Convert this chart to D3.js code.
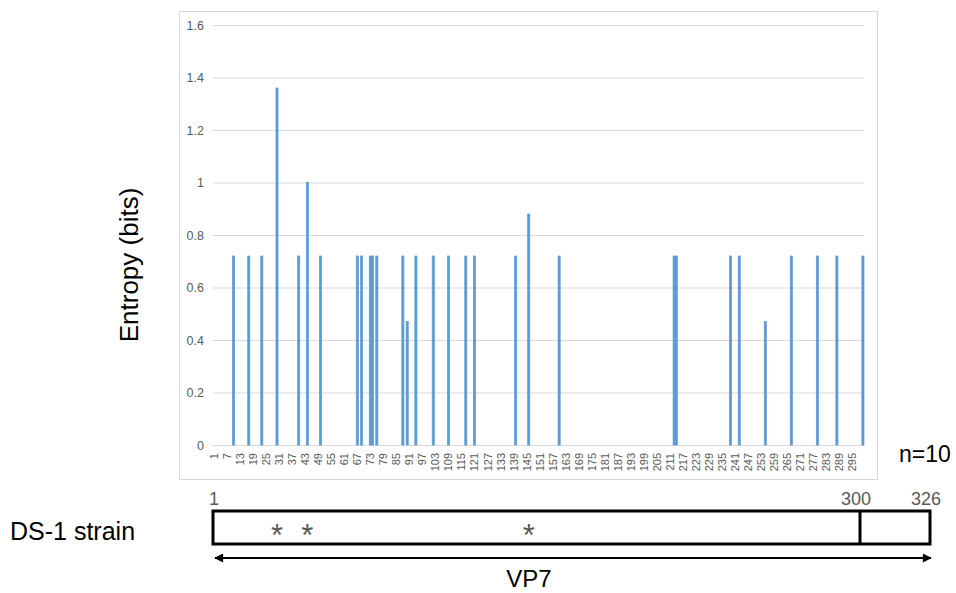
<!DOCTYPE html>
<html>
<head>
<meta charset="utf-8">
<script src="https://d3js.org/d3.v7.min.js"></script>
<style>
  body { margin: 0; background: #fff; }
  text { font-family: "Liberation Sans", Arial, sans-serif; }
</style>
</head>
<body>
<div id="my_dataviz"></div>
<script>
// amino acid sites with non-zero entropy (VP7, n=10)
var sitePositions = [10, 17, 23, 30, 40, 44, 50, 67, 69, 73, 74, 76, 88, 90, 94, 102, 109, 117, 121,
                     140, 146, 160, 213, 214, 239, 243, 255, 267, 279, 288, 300];
var siteEntropy   = [0.72, 0.72, 0.72, 1.36, 0.72, 1.00, 0.72, 0.72, 0.72, 0.72, 0.72, 0.72, 0.72, 0.47, 0.72, 0.72, 0.72, 0.72, 0.72,
                     0.72, 0.88, 0.72, 0.72, 0.72, 0.72, 0.72, 0.47, 0.72, 0.72, 0.72, 0.72];
var yTicks = [0, 0.2, 0.4, 0.6, 0.8, 1, 1.2, 1.4, 1.6];
var nSites = 300;
var proteinLength = 326;
var markedSites = [30, 44, 146];

var W = 956, H = 593;

// plot area
var plotLeft = 213, plotRight = 864, plotTop = 25, plotBottom = 445;

var svg = d3.select("#my_dataviz")
  .append("svg")
    .attr("width", W)
    .attr("height", H);

// chart frame
svg.append("rect")
  .attr("x", 179.5).attr("y", 11.5)
  .attr("width", 698).attr("height", 468)
  .attr("fill", "#fff")
  .attr("stroke", "#d9d9d9");

var sites = d3.range(1, nSites + 1);

var x = d3.scaleBand()
  .domain(sites)
  .range([plotLeft, plotRight])
  .paddingInner(0.02);

var y = d3.scaleLinear()
  .domain([0, 1.6])
  .range([plotBottom, plotTop]);

// gridlines + y labels
var yAxis = svg.append("g")
  .attr("transform", "translate(" + plotLeft + ",0)")
  .call(d3.axisLeft(y).tickValues(yTicks).tickSize(-(plotRight - plotLeft)).tickPadding(9)
    .tickFormat(function(d) { return d3.format("")(+d.toFixed(1)); }));
yAxis.select(".domain").remove();
yAxis.selectAll("line").attr("stroke", "#d9d9d9").attr("stroke-width", 1);
yAxis.selectAll("text")
  .attr("fill", "#595959")
  .style("font-size", "12.5px")
  .style("font-family", "'Liberation Sans', Arial, sans-serif");

// x labels, every 6th site
var xAxis = svg.append("g")
  .attr("transform", "translate(0," + plotBottom + ")")
  .call(d3.axisBottom(x).tickValues(d3.range(1, nSites + 1, 6)).tickSize(0).tickPadding(0));
xAxis.select(".domain").remove();
xAxis.selectAll("text")
  .attr("fill", "#595959")
  .style("font-size", "11px")
  .style("font-family", "'Liberation Sans', Arial, sans-serif")
  .attr("text-anchor", "end")
  .attr("transform", "translate(4,8) rotate(-90)")
  .attr("y", 0).attr("dy", 0);

// bars
var data = sitePositions.map(function(p, i) { return {pos: p, value: siteEntropy[i]}; });
svg.append("g")
  .selectAll("rect")
  .data(data)
  .enter().append("rect")
    .attr("x", function(d) { return x(d.pos); })
    .attr("y", function(d) { return y(d.value); })
    .attr("width", x.bandwidth())
    .attr("height", function(d) { return y(0) - y(d.value); })
    .attr("fill", "#5b9bd5")
    .attr("stroke", "#5b9bd5")
    .attr("stroke-width", 0.7);

// y title
svg.append("text")
  .attr("transform", "translate(138,265) rotate(-90)")
  .attr("text-anchor", "middle")
  .style("font-size", "26px")
  .attr("fill", "#000")
  .text("Entropy (bits)");

svg.append("text")
  .attr("x", 899).attr("y", 462)
  .style("font-size", "23px")
  .text("n=10");

// protein schematic
var bx = d3.scaleLinear()
  .domain([0, nSites, proteinLength])
  .range([213, 860, 930]);

var boxTop = 511, boxBottom = 544;

svg.append("rect")
  .attr("x", bx(0)).attr("y", boxTop)
  .attr("width", bx(proteinLength) - bx(0))
  .attr("height", boxBottom - boxTop)
  .attr("fill", "none")
  .attr("stroke", "#000")
  .attr("stroke-width", 3);

svg.append("line")
  .attr("x1", bx(nSites)).attr("x2", bx(nSites))
  .attr("y1", boxTop).attr("y2", boxBottom)
  .attr("stroke", "#000")
  .attr("stroke-width", 3);

svg.selectAll(".posLabel")
  .data([0, nSites, proteinLength])
  .enter().append("text")
    .attr("class", "posLabel")
    .attr("x", function(d) { return bx(d) + (d == 0 ? 1 : -4); })
    .attr("y", 505)
    .attr("text-anchor", "middle")
    .attr("fill", "#595959")
    .style("font-size", "18px")
    .text(function(d) { return d == 0 ? 1 : d; });

// asterisks at the high entropy sites
svg.selectAll(".star")
  .data(markedSites)
  .enter().append("text")
    .attr("class", "star")
    .attr("x", function(d) { return x(d) + x.bandwidth() / 2; })
    .attr("y", 546)
    .attr("text-anchor", "middle")
    .attr("fill", "#595959")
    .style("font-size", "31px")
    .text("*");

// double arrow
var defs = svg.append("defs");
["start", "end"].forEach(function(k) {
  defs.append("marker")
    .attr("id", "arrow-" + k)
    .attr("viewBox", "0 0 10 10")
    .attr("refX", k == "end" ? 9 : 1).attr("refY", 5)
    .attr("markerWidth", 5).attr("markerHeight", 4.5)
    .attr("orient", "auto")
    .append("path")
      .attr("d", k == "end" ? "M0,0 L10,5 L0,10 z" : "M10,0 L0,5 L10,10 z")
      .attr("fill", "#000");
});

svg.append("line")
  .attr("x1", 215).attr("x2", 931)
  .attr("y1", 558).attr("y2", 558)
  .attr("stroke", "#000")
  .attr("stroke-width", 2)
  .attr("marker-start", "url(#arrow-start)")
  .attr("marker-end", "url(#arrow-end)");

svg.append("text")
  .attr("x", 529).attr("y", 587)
  .attr("text-anchor", "middle")
  .style("font-size", "24px")
  .text("VP7");

svg.append("text")
  .attr("x", 10).attr("y", 540)
  .style("font-size", "25px")
  .text("DS-1 strain");
</script>
</body>
</html>
